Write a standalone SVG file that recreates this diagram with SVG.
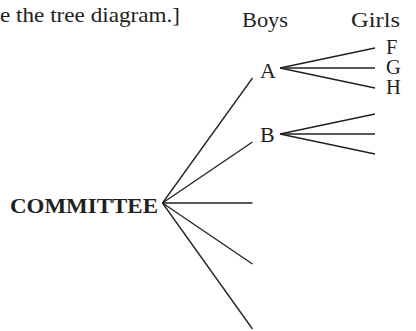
<svg xmlns="http://www.w3.org/2000/svg" width="416" height="331" viewBox="0 0 416 331">
<style>
text{font-family:"Liberation Serif","Times New Roman",serif;font-size:22px;fill:#231f20}
.b{font-weight:bold;font-size:21px}
.l{font-size:20.5px}
.c line{stroke:#231f20;stroke-width:1.3}
</style>
<rect width="416" height="331" fill="#fff"/>
<text x="0" y="22" textLength="180" lengthAdjust="spacingAndGlyphs">e the tree diagram.]</text>
<text x="242" y="27" textLength="46" lengthAdjust="spacingAndGlyphs">Boys</text>
<text x="351" y="27" textLength="49" lengthAdjust="spacingAndGlyphs">Girls</text>
<g id="committee"><text class="b" x="10" y="213" textLength="148" lengthAdjust="spacingAndGlyphs">COMMITTEE</text></g>
<g id="A"><text x="260" y="78">A</text></g>
<g id="B"><text x="260" y="142">B</text></g>
<g id="F"><text class="l" x="386" y="54">F</text></g>
<g id="G"><text class="l" x="386" y="74">G</text></g>
<g id="H"><text class="l" x="386" y="94">H</text></g>
<g class="c" id="connectors">
<line x1="162.5" y1="203" x2="252.5" y2="78"/>
<line x1="162.5" y1="203" x2="252.5" y2="142"/>
<line x1="162.5" y1="203" x2="252.5" y2="203"/>
<line x1="162.5" y1="203" x2="252.5" y2="264"/>
<line x1="162.5" y1="203" x2="252.5" y2="329"/>
<line x1="280" y1="68" x2="375" y2="48"/>
<line x1="280" y1="68" x2="375" y2="68"/>
<line x1="280" y1="68" x2="375" y2="88"/>
<line x1="280" y1="134" x2="375" y2="114"/>
<line x1="280" y1="134" x2="375" y2="134"/>
<line x1="280" y1="134" x2="375" y2="154"/>
</g>
</svg>
